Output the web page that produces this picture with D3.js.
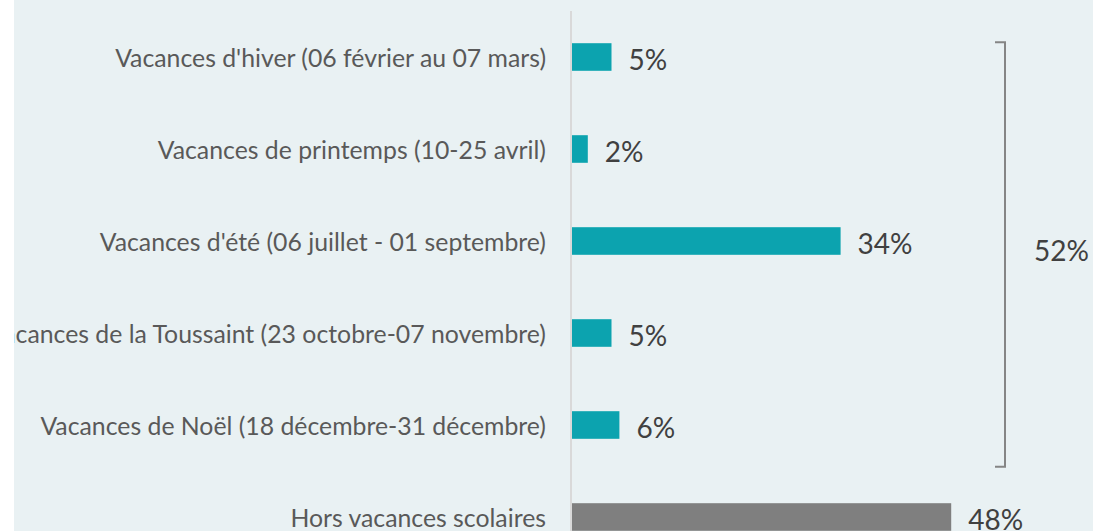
<!DOCTYPE html>
<html>
<head>
<meta charset="utf-8">
<script src="https://cdn.jsdelivr.net/npm/d3@7"></script>
<style>
  html, body { margin: 0; padding: 0; background: #ffffff; }
  svg { display: block; }
</style>
</head>
<body>
<svg id="chart" width="1093" height="531"></svg>
<script>
const categories = [
  "Vacances d'hiver (06 février au 07 mars)",
  "Vacances de printemps (10-25 avril)",
  "Vacances d'été (06 juillet - 01 septembre)",
  "Vacances de la Toussaint (23 octobre-07 novembre)",
  "Vacances de Noël (18 décembre-31 décembre)",
  "Hors vacances scolaires"
];
const values = [5, 2, 34, 5, 6, 48];
const valueLabels = ["5%", "2%", "34%", "5%", "6%", "48%"];
const groupLabel = "52%";
const groupCount = 5;

const W = 1093, H = 531;
const svg = d3.select("#chart");

svg.append("defs").append("clipPath").attr("id", "panel")
  .append("rect").attr("x", 14).attr("y", 0).attr("width", W - 14).attr("height", H);

const g = svg.append("g").attr("clip-path", "url(#panel)");

// background panel
g.append("rect").attr("x", 14).attr("y", 0).attr("width", W - 14).attr("height", H)
  .attr("fill", "#e9f1f3");

const x = d3.scaleLinear().domain([0, 50]).range([572, 572 + 395]);
const y = d3.scaleBand().domain(categories).range([11, 563])
  .paddingInner(0.7).paddingOuter(0.35);

const colors = categories.map((c, i) => i < groupCount ? "#0ca3af" : "#7f7f7f");

const font = "Lato, 'Liberation Sans', sans-serif";

// bars
g.append("g").selectAll("rect").data(values).join("rect")
  .attr("x", x(0))
  .attr("y", (d, i) => y(categories[i]))
  .attr("width", d => x(d) - x(0))
  .attr("height", y.bandwidth())
  .attr("fill", (d, i) => colors[i]);

// axis line
g.append("line").attr("x1", 571).attr("x2", 571).attr("y1", 11).attr("y2", H)
  .attr("stroke", "#d9d9d9").attr("stroke-width", 2);

// category labels
g.append("g").selectAll("text").data(categories).join("text")
  .attr("x", 546)
  .attr("y", d => y(d) + y.bandwidth() / 2)
  .attr("text-anchor", "end")
  .attr("dominant-baseline", "central")
  .attr("font-family", font)
  .attr("font-size", 24.8)
  .attr("fill", "#595959")
  .text(d => d);

// value labels
g.append("g").selectAll("text").data(values).join("text")
  .attr("x", d => x(d) + 17)
  .attr("y", (d, i) => y(categories[i]) + y.bandwidth() / 2 + 2)
  .attr("dominant-baseline", "central")
  .attr("font-family", font)
  .attr("font-size", 28)
  .attr("fill", "#404040")
  .text((d, i) => valueLabels[i]);

// bracket
const bTop = y(categories[0]) - 1;
const bBot = y(categories[groupCount - 1]) + y.bandwidth() + 28;
const bx = 1005;
g.append("path")
  .attr("d", `M${bx - 10},${bTop} H${bx} V${bBot} H${bx - 10}`)
  .attr("fill", "none").attr("stroke", "#858585").attr("stroke-width", 2);

g.append("text")
  .attr("x", 1034)
  .attr("y", (bTop + bBot) / 2 - 5)
  .attr("dominant-baseline", "central")
  .attr("font-family", font)
  .attr("font-size", 28)
  .attr("fill", "#404040")
  .text(groupLabel);
</script>
</body>
</html>
